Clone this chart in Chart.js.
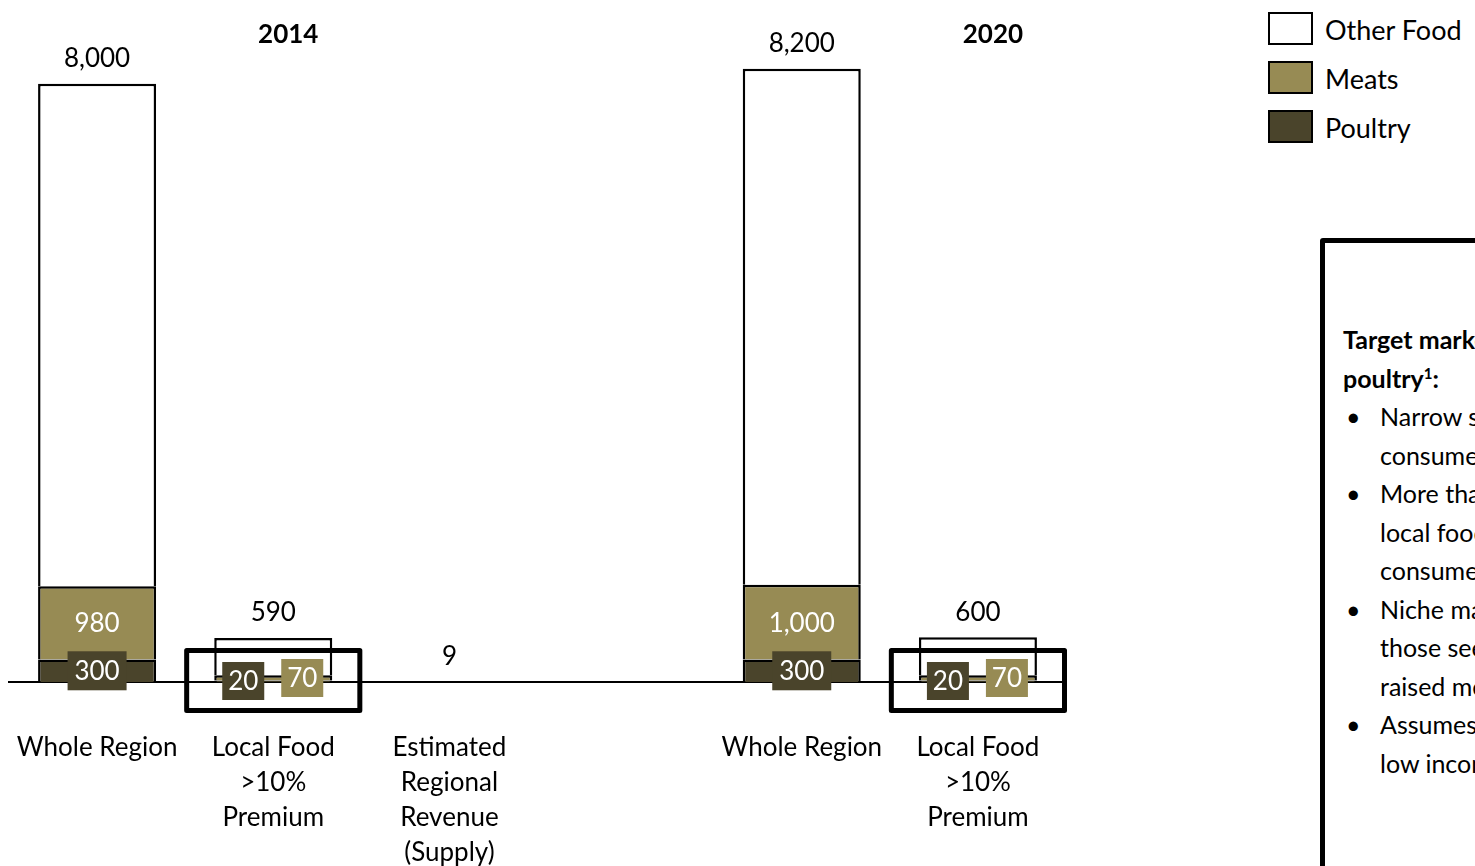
<!DOCTYPE html>
<html>
<head>
<meta charset="utf-8">
<script src="https://cdn.jsdelivr.net/npm/chart.js@4.4.1/dist/chart.umd.min.js"></script>
<style>
  html, body { margin: 0; padding: 0; background: #fff; overflow: hidden; }
  body { width: 1475px; height: 866px; position: relative; font-family: Lato, "Open Sans", sans-serif; color: #000; }
  #wrap { position: absolute; left: 0; top: 0; width: 1068px; height: 870px; }
  .legend { position: absolute; left: 1268px; top: 12px; font-size: 27px; }
  .legend .row { position: relative; height: 49px; }
  .legend .sw { position: absolute; left: 0; top: 0; width: 45px; height: 33px; box-sizing: border-box; border: 2px solid #000; }
  .legend .tx { position: absolute; left: 57px; top: 0; line-height: 36px; white-space: nowrap; }
  .callout { position: absolute; left: 1320px; top: 238px; width: 400px; height: 700px; box-sizing: border-box;
             border: 5px solid #000; border-radius: 3px; font-size: 25px; }
  .callout .body { position: absolute; left: 18px; top: 77px; line-height: 38.5px; white-space: nowrap; }
  .callout b { font-weight: 700; }
  .callout .li { position: relative; padding-left: 37px; }
  .callout .li::before { content: "\2022"; position: absolute; left: 3px; }
  .callout .cont { padding-left: 37px; }
</style>
</head>
<body>
<div id="wrap"><canvas id="chart"></canvas></div>

<div class="legend">
  <div class="row"><div class="sw" style="background:#ffffff"></div><div class="tx">Other Food</div></div>
  <div class="row"><div class="sw" style="background:#978b54"></div><div class="tx">Meats</div></div>
  <div class="row"><div class="sw" style="background:#4a442b"></div><div class="tx">Poultry</div></div>
</div>

<div class="callout">
  <div class="body">
    <div><b>Target market for local meats and</b></div>
    <div><b>poultry<sup style="font-size:15px;line-height:0">1</sup>:</b></div>
    <div class="li">Narrow segment of</div>
    <div class="cont">consumers</div>
    <div class="li">More than half of</div>
    <div class="cont">local food</div>
    <div class="cont">consumers</div>
    <div class="li">Niche market for</div>
    <div class="cont">those seeking</div>
    <div class="cont">raised meats</div>
    <div class="li">Assumes excludes</div>
    <div class="cont">low income</div>
  </div>
</div>

<script>
const categories = [
  'Whole Region',
  ['Local Food', '>10%', 'Premium'],
  ['Estimated', 'Regional', 'Revenue', '(Supply)'],
  '',
  'Whole Region',
  ['Local Food', '>10%', 'Premium']
];
const years = ['2014', '2020'];
const yearCategory = [1, 5];

const poultry = [300, 20, 0, null, 300, 20];
const meats = [980, 70, 0, null, 1000, 70];
const otherFood = [6720, 500, 9, null, 6900, 510];
const totals = [8000, 590, 9, null, 8200, 600];
// the local food bars get the black frame around them
const framed = [false, true, false, false, false, true];

const poultryColor = '#4a442b';
const meatsColor = '#978b54';

const fmt = v => v.toLocaleString('en-US');

function labelBox(ctx, cx, cy, w, h, fill, text) {
  ctx.fillStyle = fill;
  ctx.fillRect(cx - w / 2, cy - h / 2, w, h);
  ctx.fillStyle = '#fff';
  ctx.fillText(text, cx, cy + 1);
}

const labelsPlugin = {
  id: 'labelsPlugin',
  afterDraw(chart) {
    const ctx = chart.ctx;
    const x = chart.scales.x, y = chart.scales.y;
    const base = y.getPixelForValue(0);
    const catW = x.getPixelForValue(1) - x.getPixelForValue(0);
    const pMeta = chart.getDatasetMeta(0);
    const mMeta = chart.getDatasetMeta(1);

    ctx.save();
    ctx.textAlign = 'center';
    ctx.textBaseline = 'middle';
    ctx.font = '26px Lato';

    // totals above the bars
    totals.forEach((t, i) => {
      if (t == null) return;
      ctx.fillStyle = '#000';
      ctx.fillText(fmt(t), x.getPixelForValue(i), y.getPixelForValue(t) - 25);
    });

    // frames round the local food bars
    framed.forEach((f, i) => {
      if (!f) return;
      const cx = x.getPixelForValue(i);
      ctx.lineWidth = 5;
      ctx.strokeStyle = '#000';
      ctx.lineJoin = 'round';
      ctx.strokeRect(cx - catW / 2 + 1.5, base - 31.5, catW - 3, 60);
    });

    // meats / poultry values
    poultry.forEach((v, i) => {
      if (!v) return;
      const pBar = pMeta.data[i], mBar = mMeta.data[i];
      const cx = pBar.x;
      if (mBar.base - mBar.y > 30) {
        ctx.fillStyle = '#fff';
        ctx.fillText(fmt(meats[i]), cx, (mBar.y + mBar.base) / 2 + 1);
        labelBox(ctx, cx, (pBar.y + pBar.base) / 2, 59, 39, poultryColor, fmt(v));
      } else {
        labelBox(ctx, cx - 30, base - 1, 42, 38, poultryColor, fmt(v));
        labelBox(ctx, cx + 29, base - 4, 42, 38, meatsColor, fmt(meats[i]));
      }
    });

    // year headings
    ctx.font = 'bold 26px Lato';
    ctx.fillStyle = '#000';
    years.forEach((yr, k) => {
      ctx.fillText(yr, x.getPixelForValue(yearCategory[k]) + 15, chart.chartArea.top + 23);
    });
    ctx.restore();
  }
};

const tiny = c => c.raw == null || c.raw < 15;
const borderW = c => (tiny(c) ? 0 : 2.5);

new Chart(document.getElementById('chart'), {
  type: 'bar',
  data: {
    labels: categories,
    datasets: [
      { label: 'Poultry', data: poultry, backgroundColor: poultryColor, borderColor: '#000', borderWidth: borderW },
      { label: 'Meats', data: meats, backgroundColor: meatsColor, borderColor: '#000', borderWidth: borderW },
      { label: 'Other Food', data: otherFood, borderColor: '#000', borderWidth: borderW,
        backgroundColor: c => (tiny(c) ? 'rgba(255,255,255,0)' : '#ffffff') }
    ]
  },
  options: {
    responsive: true,
    maintainAspectRatio: false,
    animation: false,
    layout: { padding: { left: 9, right: 2, top: 12, bottom: 0 } },
    datasets: { bar: { categoryPercentage: 1, barPercentage: 0.67 } },
    plugins: {
      legend: { display: false },
      tooltip: { enabled: false }
    },
    scales: {
      x: {
        stacked: true,
        z: 1,
        grid: { display: false },
        border: { display: true, color: '#000', width: 2 },
        ticks: {
          color: '#000',
          padding: 40,
          maxRotation: 0,
          autoSkip: false,
          font: { family: 'Lato', size: 26, lineHeight: 1.35 }
        },
        afterFit: s => {
          // fixed axis band so the baseline lands where it does in the original
          s.height = 188;
          s.paddingLeft = 0;
          s.paddingRight = 0;
        }
      },
      y: {
        stacked: true,
        display: false,
        min: 0,
        max: 8960
      }
    }
  },
  plugins: [labelsPlugin]
});
</script>
</body>
</html>
